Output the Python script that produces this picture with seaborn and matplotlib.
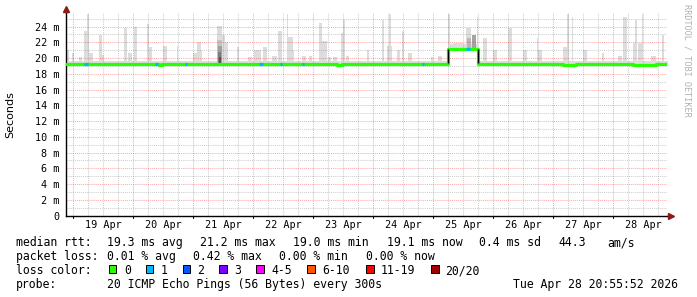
import numpy as np
import pandas as pd
import matplotlib
matplotlib.use("Agg")
import matplotlib.pyplot as plt
import seaborn as sns
from matplotlib.patches import Rectangle

# ---------------- data (x in hours since 19 Apr 00:00, y in ms) ----------------
day_labels = ["19 Apr", "20 Apr", "21 Apr", "22 Apr", "23 Apr",
              "24 Apr", "25 Apr", "26 Apr", "27 Apr", "28 Apr"]
y_ticks = [0, 2, 4, 6, 8, 10, 12, 14, 16, 18, 20, 22, 24]
y_labels = ["0", "2 m", "4 m", "6 m", "8 m", "10 m", "12 m", "14 m",
            "16 m", "18 m", "20 m", "22 m", "24 m"]

# median rtt (step series)
median_hours = [-3, 34.5, 35.7, 105.5, 107.5, 150, 162, 196, 201, 224, 233, 238]
median_ms = [19.25, 19.13, 19.25, 19.13, 19.25, 21.2, 19.25, 19.15, 19.25, 19.13, 19.25, 19.25]

# points with 1/20 loss (blue)
loss1_hours = [4.5, 32.8, 44.7, 74.5, 82.6, 91.5, 139.4, 157.0]
loss1_span = [1.3, 1.0, 1.0, 1.3, 1.0, 0.8, 0.8, 1.6]

# base smoke band (min..typical)
band_hours = [-3, 150, 162, 238]
band_low = [18.95, 20.95, 18.95, 18.95]
band_high = [19.6, 21.75, 19.6, 19.6]

# smoke spikes (max ping)
spike_start = [-2.5, -0.5, 2.4, 4.4, 5.7, 6.4, 10.4, 11.5, 20.4, 22.0, 24.4, 29.5, 30.3,
               36.0, 41.5, 48.0, 49.5, 51.0, 57.5, 59.5, 60.8, 65.7, 70.0, 72.4, 73.5,
               76.0, 79.5, 82.0, 85.5, 86.0, 88.0, 91.5, 94.5, 98.5, 99.6, 102.0, 104.0,
               107.0, 108.0, 109.0, 117.5, 123.5, 125.5, 126.2, 129.5, 131.5, 134.0,
               143.0, 146.0, 150.0, 152.0, 157.0, 159.0, 161.5, 164.0, 168.0, 174.0,
               180.0, 185.5, 186.0, 196.0, 197.5, 199.5, 204.0, 211.5, 218.0, 220.0,
               224.0, 224.8, 226.0, 227.5, 231.0, 235.5]
spike_span = [0.9, 0.9, 1.1, 1.3, 0.7, 1.6, 1.1, 0.7, 1.1, 1.5, 1.1, 0.8, 1.3,
              1.5, 0.6, 1.5, 1.5, 0.6, 2.0, 1.3, 1.2, 0.7, 1.5, 1.1, 1.5,
              1.5, 2.0, 1.5, 0.5, 2.0, 0.5, 1.5, 1.1, 1.1, 1.9, 1.0, 1.5,
              1.0, 0.8, 1.2, 1.0, 0.9, 2.0, 0.9, 1.3, 0.9, 1.5,
              1.0, 1.5, 0.6, 4.0, 2.0, 2.5, 0.6, 1.5, 1.5, 1.5,
              1.5, 0.5, 1.5, 1.5, 0.9, 0.6, 1.5, 0.9, 1.5, 1.5,
              0.8, 0.7, 1.5, 0.6, 2.0, 0.9]
spike_top = [21.0, 20.6, 20.2, 23.4, 25.6, 20.7, 22.9, 20.4, 23.8, 20.6, 23.9, 24.3, 21.4,
             21.5, 21.5, 20.6, 22.0, 21.0, 24.1, 22.9, 22.1, 21.4, 20.1, 21.0, 21.0,
             21.4, 20.3, 23.4, 25.6, 22.7, 21.0, 20.3, 20.3, 24.5, 22.2, 20.2, 20.2,
             23.2, 24.8, 20.3, 21.0, 24.9, 21.5, 25.6, 21.0, 23.4, 20.7,
             20.1, 20.3, 25.6, 21.9, 23.8, 21.6, 25.2, 22.5, 21.0, 23.8,
             21.0, 22.5, 21.0, 21.4, 25.6, 25.2, 21.0, 20.6, 20.3, 25.2,
             21.9, 24.8, 21.9, 25.6, 20.3, 22.9]

# denser (darker) smoke, layered for a gradient
dark_start = [57.5, 57.8, 58.0, 58.2, 157.5, 159.5]
dark_span = [2.0, 1.6, 1.3, 1.0, 1.5, 1.5]
dark_low = [19.3, 19.3, 19.3, 19.3, 21.3, 21.3]
dark_high = [22.3, 21.5, 20.8, 20.2, 22.6, 22.9]
dark_color = ["#c4c4c4", "#a0a0a0", "#7c7c7c", "#555555", "#b8b8b8", "#a4a4a4"]

loss_labels = ["0", "1", "2", "3", "4-5", "6-10", "11-19", "20/20"]
loss_colors = ["#26ff00", "#00b8ff", "#0059ff", "#7e00ff", "#ff00ff",
               "#ff5500", "#ff0000", "#a10000"]

stats_rtt = ["19.3 ms avg", "21.2 ms max", "19.0 ms min", "19.1 ms now", "0.4 ms sd", "44.3", "am/s"]
stats_loss = ["0.01 % avg", "0.42 % max", "0.00 % min", "0.00 % now"]
probe_text = "20 ICMP Echo Pings (56 Bytes) every 300s"
stamp_text = "Tue Apr 28 20:55:52 2026"

# ---------------- figure ----------------
sns.set_theme(style="white")
plt.rcParams["font.family"] = ["DejaVu Sans Mono", "DejaVu Sans"]

W, H = 697, 297
fig = plt.figure(figsize=(W / 100, H / 100), dpi=100)
fig.patch.set_facecolor("white")

x0, x1, ytop, ybot = 66, 667, 13, 215.5
ax = fig.add_axes([x0 / W, (H - ybot) / H, (x1 - x0) / W, (ybot - ytop) / H])
ax.set_facecolor("white")

px_per_h = 2.5
xmin = -7 / px_per_h
xmax = xmin + (x1 - x0) / px_per_h
ax.set_xlim(xmin, xmax)
ymax = (ybot - ytop) / 7.87
ax.set_ylim(0, ymax)

# smoke base band
ax.fill_between(band_hours, band_low, band_high, step="post", color="#dddddd", lw=0, zorder=1)

def median_at(h):
    idx = np.searchsorted(median_hours, h, side="right") - 1
    return median_ms[max(idx, 0)]

spike_bottom = [median_at(s + w / 2) - 0.3 for s, w in zip(spike_start, spike_span)]
ax.bar(spike_start, np.array(spike_top) - np.array(spike_bottom), bottom=spike_bottom,
       width=spike_span, align="edge", color="#dddddd", linewidth=0, zorder=1)
ax.bar(dark_start, np.array(dark_high) - np.array(dark_low), bottom=dark_low,
       width=dark_span, align="edge", color=dark_color, linewidth=0, zorder=1.5)

# grid (drawn manually: minor grey, major red)
dot = (0, (1, 1))
for h in range(0, int(xmax) + 1, 6):
    if h % 24 == 0:
        ax.axvline(h, color="#ff0000", alpha=0.33, lw=0.75, ls=dot, zorder=2)
    else:
        ax.axvline(h, color="#808080", alpha=0.38, lw=0.75, ls=dot, zorder=2)
for v in range(1, int(ymax) + 1):
    if v % 2 == 0:
        ax.axhline(v, color="#ff0000", alpha=0.33, lw=0.75, ls=dot, zorder=2)
    else:
        ax.axhline(v, color="#808080", alpha=0.38, lw=0.75, ls=dot, zorder=2)

# median line
med_df = pd.DataFrame({"hour": median_hours, "ms": median_ms})
sns.lineplot(data=med_df, x="hour", y="ms", ax=ax, color="#26ff00", lw=2.3,
             drawstyle="steps-post", zorder=4, legend=False)
ax.vlines([150, 162], 19.35, 21.1, color="black", lw=1.0, zorder=5)
for h, w in zip(loss1_hours, loss1_span):
    m = median_at(h + w / 2)
    ax.plot([h, h + w], [m, m], color="#00b8ff", lw=2.3, solid_capstyle="butt", zorder=6)

ax.set_xlabel("")
ax.set_ylabel("")

ax.set_xticks([12 + 24 * i for i in range(len(day_labels))])
ax.set_xticklabels(day_labels)
ax.set_yticks(y_ticks)
ax.set_yticklabels(y_labels)
ax.tick_params(axis="x", length=0, pad=3.2, labelsize=7.3, colors="black")
ax.tick_params(axis="y", length=0, pad=4.5, labelsize=7.3, colors="black")
for lab in ax.get_xticklabels() + ax.get_yticklabels():
    lab.set_fontfamily("DejaVu Sans Mono")

for s in ["top", "right"]:
    ax.spines[s].set_visible(False)
for s in ["left", "bottom"]:
    ax.spines[s].set_color("black")
    ax.spines[s].set_linewidth(1.0)

ax.plot([xmin, xmin], [ymax, ymax + 0.6], color="black", lw=1.0, clip_on=False, zorder=6)
ax.plot([xmin], [ymax + 0.45], marker="^", color="#8b1a1a", ms=4, clip_on=False, zorder=7)
ax.plot([xmax, xmax + 1.5], [0, 0], color="black", lw=1.0, clip_on=False, zorder=6)
ax.plot([xmax + 1.6], [0], marker=">", color="#8b1a1a", ms=4, clip_on=False, zorder=7)
for h in range(0, int(xmax) + 1, 24):
    ax.plot([h, h], [0, -0.3], color="black", lw=0.8, clip_on=False)

fig.text(10 / W, 1 - 115 / H, "Seconds", rotation=90, ha="center", va="center",
         fontsize=8, family="DejaVu Sans", color="black")
fig.text(687 / W, 1 - 60 / H, "RRDTOOL / TOBI OETIKER", rotation=270, ha="center",
         va="center", fontsize=6.1, color="#b0b0b0", family="DejaVu Sans Mono")

def t(xp, yp, s, **kw):
    fig.text(xp / W, 1 - yp / H, s, ha="left", va="center_baseline", fontsize=8.3,
             family="DejaVu Sans Mono", color="black", **kw)

t(16, 241, "median rtt:")
for xp, s in zip([107, 200, 293, 387, 479, 558, 607], stats_rtt):
    t(xp, 241, s)
t(16, 255, "packet loss:")
for xp, s in zip([107, 193, 279, 366], stats_loss):
    t(xp, 255, s)
t(16, 269, "loss color:")
sq_x = [108.5, 145.5, 182.5, 219, 256, 307, 366, 431]
lab_x = [124, 161, 197, 234, 271, 322, 381, 445]
for sx, lx, lab, col in zip(sq_x, lab_x, loss_labels, loss_colors):
    fig.add_artist(Rectangle((sx / W, 1 - 273 / H), 7.5 / W, 8 / H, transform=fig.transFigure,
                             facecolor=col, edgecolor="black", lw=0.7))
    t(lx, 269, lab)
t(16, 283, "probe:")
t(107, 283, probe_text)
t(513, 283, stamp_text)

fig.savefig("out.png", dpi=100, facecolor="white")
